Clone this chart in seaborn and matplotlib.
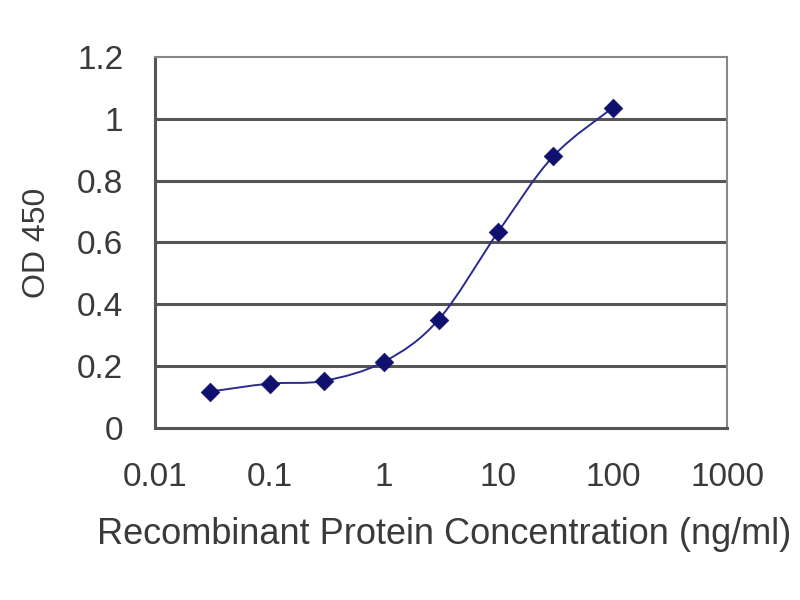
import numpy as np
import matplotlib
matplotlib.use("Agg")
import matplotlib.pyplot as plt
from matplotlib.path import Path
from matplotlib.patches import PathPatch
import seaborn as sns
import pandas as pd

# valeurs
concentration = [0.03, 0.1, 0.3, 1, 3, 10, 30, 100]
od450 = [0.117, 0.143, 0.152, 0.214, 0.35, 0.635, 0.878, 1.036]
x_ticks = [0.01, 0.1, 1, 10, 100, 1000]
x_tick_labels = ["0.01", "0.1", "1", "10", "100", "1000"]
y_ticks = [0, 0.2, 0.4, 0.6, 0.8, 1.0, 1.2]
y_tick_labels = ["0", "0.2", "0.4", "0.6", "0.8", "1", "1.2"]

df = pd.DataFrame({"conc": concentration, "od": od450})

sns.set_theme(style="white")
plt.rcParams["font.family"] = ["Liberation Sans", "DejaVu Sans"]

fig = plt.figure(figsize=(8, 6), dpi=100)
ax = fig.add_axes([0.194, 0.287, 0.715, 0.618])

navy = "#10106e"
text_col = "#3a3a3a"
grid_col = "#555555"

ax.set_xscale("log")
ax.set_xlim(0.01, 1000)
ax.set_ylim(0, 1.2)

# lignes horizontales de la grille
for yv in y_ticks[1:-1]:
    ax.axhline(yv, color=grid_col, lw=2.2, zorder=1)

# courbe lissée (style Excel) : Bezier Catmull-Rom dans l'espace (log x, y)
lx = np.log10(df["conc"].to_numpy())
yy = df["od"].to_numpy()
pts = np.column_stack([lx, yy])
verts = [pts[0]]
codes = [Path.MOVETO]
n = len(pts)
for i in range(n - 1):
    p0 = pts[i - 1] if i > 0 else pts[i]
    p1 = pts[i]
    p2 = pts[i + 1]
    p3 = pts[i + 2] if i + 2 < n else pts[i + 1]
    c1 = p1 + (p2 - p0) / 6.0
    c2 = p2 - (p3 - p1) / 6.0
    verts += [c1, c2, p2]
    codes += [Path.CURVE4] * 3
verts = np.array(verts)
verts[:, 0] = 10 ** verts[:, 0]
ax.add_patch(PathPatch(Path(verts, codes), facecolor="none", edgecolor="#2a2a90",
                       lw=1.4, zorder=2))

sns.scatterplot(data=df, x="conc", y="od", marker="D", s=90, color=navy,
                edgecolor=navy, linewidth=0.5, ax=ax, zorder=3)

ax.set_xticks(x_ticks)
ax.set_xticklabels(x_tick_labels)
ax.minorticks_off()
ax.set_yticks(y_ticks)
ax.set_yticklabels(y_tick_labels)
ax.tick_params(axis="x", direction="inout", length=7, width=1.5, color=grid_col,
               labelsize=24, labelcolor=text_col, pad=21)
ax.tick_params(axis="y", direction="out", length=4, width=1.5, color=grid_col,
               labelsize=24, labelcolor=text_col, pad=19)

for side in ["left", "bottom"]:
    ax.spines[side].set_color("#555555")
    ax.spines[side].set_linewidth(2.2)
for side in ["right", "top"]:
    ax.spines[side].set_color("#888888")
    ax.spines[side].set_linewidth(1.5)

ax.set_xlabel("Recombinant Protein Concentration (ng/ml)", fontsize=26,
              color=text_col)
ax.xaxis.set_label_coords(0.505, -0.240)
ax.set_ylabel("OD 450", fontsize=23, color=text_col)
ax.yaxis.set_label_coords(-0.180, 0.5)

fig.savefig("out.png", dpi=100)
